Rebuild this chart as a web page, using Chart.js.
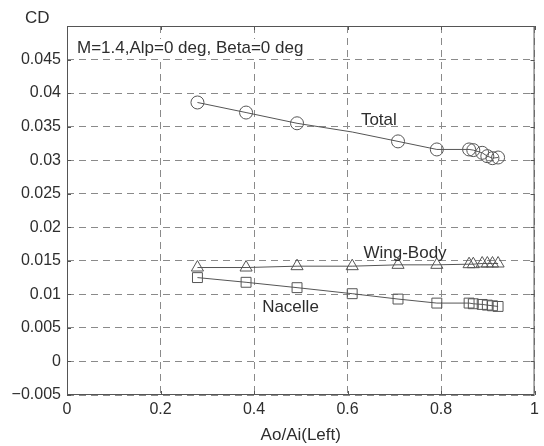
<!DOCTYPE html>
<html>
<head>
<meta charset="utf-8">
<script src="https://cdn.jsdelivr.net/npm/chart.js@4"></script>
<style>
  html, body { margin: 0; padding: 0; background: #fff; }
  canvas { display: block; }
</style>
</head>
<body>
<canvas id="canvas" width="544" height="446"></canvas>
<script>
// Ao/Ai(Left) for each run
const aoAi = [0.279, 0.383, 0.492, 0.610, 0.708, 0.791, 0.860, 0.869, 0.888, 0.899, 0.910, 0.922];
const cdTotal = [0.0386, 0.0371, 0.0355, 0.0342, 0.0328, 0.0316, 0.0316, 0.0315, 0.0311, 0.0306, 0.0303, 0.0304];
const cdWingBody = [0.0140, 0.0140, 0.0142, 0.0142, 0.0144, 0.0144, 0.0145, 0.0145, 0.0146, 0.0146, 0.0146, 0.0146];
const cdNacelle = [0.0125, 0.0118, 0.0110, 0.0101, 0.0093, 0.0087, 0.0087, 0.0086, 0.0085, 0.0084, 0.0083, 0.0082];

const xTicks = [0, 0.2, 0.4, 0.6, 0.8, 1];
const yTicks = [-0.005, 0, 0.005, 0.01, 0.015, 0.02, 0.025, 0.03, 0.035, 0.04, 0.045];

const labels = [
  { text: "Total", x: 0.667, y: 0.0359 },
  { text: "Wing-Body", x: 0.723, y: 0.0161 },
  { text: "Nacelle", x: 0.478, y: 0.0080 }
];

const FONT = "'Liberation Sans', Arial, sans-serif";
const INK = "#2e2e2e";
const LINE = "#555";

function toPoints(ys) {
  return aoAi.map((x, i) => ({ x: x, y: ys[i] }));
}

function fmt(v) {
  let s = String(Number(v.toFixed(4)));
  return v < 0 ? "\u2212" + s.slice(1) : s;
}

// frame, inward ticks and text notes
const decorations = {
  id: "decorations",
  afterDraw(chart) {
    const ctx = chart.ctx;
    const area = chart.chartArea;
    const xs = chart.scales.x;
    const ys = chart.scales.y;
    ctx.save();
    ctx.strokeStyle = LINE;
    ctx.lineWidth = 1;
    ctx.strokeRect(area.left + 0.5, area.top + 0.5, area.right - area.left - 1, area.bottom - area.top - 1);
    ctx.beginPath();
    xTicks.forEach(v => {
      const px = Math.round(xs.getPixelForValue(v)) + 0.5;
      ctx.moveTo(px, area.bottom);
      ctx.lineTo(px, area.bottom - 4);
      ctx.moveTo(px, area.top);
      ctx.lineTo(px, area.top + 4);
    });
    yTicks.concat([0.05]).forEach(v => {
      const py = Math.round(ys.getPixelForValue(v)) + 0.5;
      ctx.moveTo(area.left, py);
      ctx.lineTo(area.left + 4, py);
      ctx.moveTo(area.right, py);
      ctx.lineTo(area.right - 4, py);
    });
    ctx.stroke();

    ctx.fillStyle = INK;
    ctx.font = "17px " + FONT;
    ctx.textBaseline = "middle";
    ctx.textAlign = "center";
    labels.forEach(l => {
      ctx.fillText(l.text, xs.getPixelForValue(l.x), ys.getPixelForValue(l.y));
    });

    ctx.textAlign = "left";
    const note = "M=1.4,Alp=0 deg, Beta=0 deg";
    const w = ctx.measureText(note).width;
    ctx.fillStyle = "#fff";
    ctx.fillRect(area.left + 8, 39, w + 4, 19);
    ctx.fillStyle = INK;
    ctx.fillText(note, area.left + 10, 48);

    ctx.fillText("CD", 25, 18);
    ctx.restore();
  }
};

function drawChart() {
  const ctx = document.getElementById("canvas").getContext("2d");

  const common = {
    showLine: true,
    borderColor: LINE,
    borderWidth: 1,
    backgroundColor: "rgba(0,0,0,0)",
    pointBorderColor: LINE,
    pointBorderWidth: 1,
    pointBackgroundColor: "rgba(0,0,0,0)"
  };

  const data = {
    datasets: [
      Object.assign({}, common, {
        label: "Total",
        data: toPoints(cdTotal),
        pointStyle: "circle",
        pointRadius: cdTotal.map((v, i) => (i === 3 ? 0 : 6.5))
      }),
      Object.assign({}, common, {
        label: "Wing-Body",
        data: toPoints(cdWingBody),
        pointStyle: "triangle",
        pointRadius: 7
      }),
      Object.assign({}, common, {
        label: "Nacelle",
        data: toPoints(cdNacelle),
        pointStyle: "rect",
        pointRadius: 7
      })
    ]
  };

  const gridStyle = {
    color: "#8a8a8a",
    lineWidth: 1,
    drawTicks: false
  };

  const options = {
    responsive: false,
    animation: false,
    layout: { padding: { left: 0, top: 26, right: 8, bottom: 0 } },
    plugins: {
      legend: { display: false },
      tooltip: { enabled: false }
    },
    scales: {
      x: {
        type: "linear",
        min: 0,
        max: 1,
        afterFit: s => { s.height = 51; },
        afterBuildTicks: s => { s.ticks = xTicks.map(v => ({ value: v })); },
        grid: gridStyle,
        border: { display: false, dash: [7, 5] },
        ticks: {
          padding: 5,
          color: INK,
          font: { family: FONT, size: 16 },
          callback: v => fmt(v)
        },
        title: {
          display: true,
          text: "Ao/Ai(Left)",
          color: INK,
          font: { family: FONT, size: 17 },
          padding: { top: 0, bottom: 0 }
        }
      },
      y: {
        type: "linear",
        min: -0.005,
        max: 0.05,
        afterFit: s => { s.width = 67; },
        afterBuildTicks: s => { s.ticks = yTicks.map(v => ({ value: v })); },
        grid: gridStyle,
        border: { display: false, dash: [7, 5] },
        ticks: {
          padding: 6,
          color: INK,
          font: { family: FONT, size: 16 },
          callback: v => fmt(v)
        }
      }
    }
  };

  new Chart(ctx, {
    type: "scatter",
    data: data,
    options: options,
    plugins: [decorations]
  });
}

drawChart();
</script>
</body>
</html>
